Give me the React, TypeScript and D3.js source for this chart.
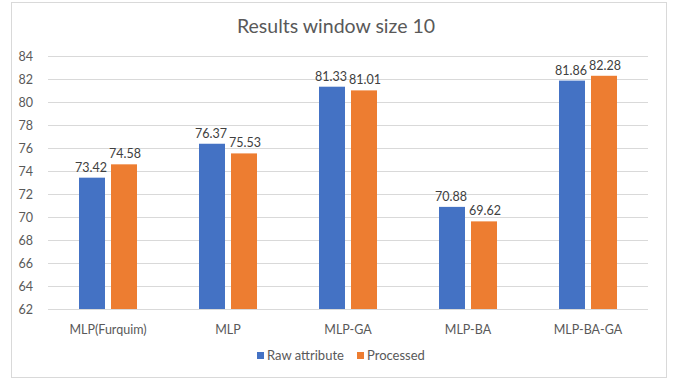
import React, { useEffect, useRef } from "react";
import * as d3 from "d3";

const categories = ["MLP(Furquim)", "MLP", "MLP-GA", "MLP-BA", "MLP-BA-GA"];
const rawAttribute = [73.42, 76.37, 81.33, 70.88, 81.86];
const processed = [74.58, 75.53, 81.01, 69.62, 82.28];
const seriesNames = ["Raw attribute", "Processed"];
const yTicks = [62, 64, 66, 68, 70, 72, 74, 76, 78, 80, 82, 84];

export default function App() {
  const ref = useRef<SVGSVGElement>(null);

  useEffect(() => {
    const font = "Lato, 'Open Sans', sans-serif";
    const svg = d3.select(ref.current);
    svg.selectAll("*").remove();

    svg.append("rect")
      .attr("x", 11.5).attr("y", 2.5)
      .attr("width", 655).attr("height", 375)
      .attr("fill", "#fff").attr("stroke", "#d9d9d9");

    svg.append("text")
      .attr("x", 336).attr("y", 33)
      .attr("text-anchor", "middle")
      .attr("font-family", font).attr("font-size", 19.5)
      .attr("fill", "#595959")
      .text("Results window size 10");

    const x = d3.scaleBand().domain(categories).range([48, 648]);
    const y = d3.scaleLinear().domain([62, 84]).range([309, 56]);

    // gridlines
    svg.append("g")
      .selectAll("line")
      .data(yTicks)
      .enter()
      .append("line")
      .attr("x1", 48).attr("x2", 648)
      .attr("y1", (d) => Math.round(y(d)) + 0.5)
      .attr("y2", (d) => Math.round(y(d)) + 0.5)
      .attr("stroke", "#d9d9d9");

    svg.append("g")
      .selectAll("text")
      .data(yTicks)
      .enter()
      .append("text")
      .attr("x", 33).attr("y", (d) => y(d) + 4.5)
      .attr("text-anchor", "end")
      .attr("font-family", font).attr("font-size", 12.5)
      .attr("fill", "#595959")
      .text((d) => d);

    const barW = 26;
    const gap = 6;
    const series = [rawAttribute, processed];
    const colors = ["#4472C4", "#ED7D31"];

    series.forEach((vals, s) => {
      const off = s === 0 ? -gap / 2 - barW : gap / 2;
      const g = svg.append("g");
      g.selectAll("rect")
        .data(vals)
        .enter()
        .append("rect")
        .attr("x", (d, i) => x(categories[i])! + x.bandwidth() / 2 + off)
        .attr("y", (d) => y(d))
        .attr("width", barW)
        .attr("height", (d) => y(62) - y(d))
        .attr("fill", colors[s]);
      g.selectAll("text")
        .data(vals)
        .enter()
        .append("text")
        .attr("x", (d, i) => x(categories[i])! + x.bandwidth() / 2 + off + barW / 2 + (s === 0 ? -1 : 1))
        .attr("y", (d) => y(d) - 6)
        .attr("text-anchor", "middle")
        .attr("font-family", font).attr("font-size", 12.5)
        .attr("fill", "#404040")
        .text((d) => d.toFixed(2));
    });

    svg.append("g")
      .selectAll("text")
      .data(categories)
      .enter()
      .append("text")
      .attr("x", (d) => x(d)! + x.bandwidth() / 2)
      .attr("y", 334)
      .attr("text-anchor", "middle")
      .attr("font-family", font).attr("font-size", 12.5)
      .attr("fill", "#595959")
      .text((d) => d);

    const legendX = [257, 357];
    seriesNames.forEach((name, i) => {
      svg.append("rect")
        .attr("x", legendX[i]).attr("y", 352)
        .attr("width", 7).attr("height", 7)
        .attr("fill", colors[i]);
      svg.append("text")
        .attr("x", legendX[i] + 10).attr("y", 360)
        .attr("font-family", font).attr("font-size", 13)
        .attr("fill", "#595959")
        .text(name);
    });
  }, []);

  return (
    <svg ref={ref} width={673} height={382}
      style={{ position: "absolute", left: 0, top: 0 }} />
  );
}
